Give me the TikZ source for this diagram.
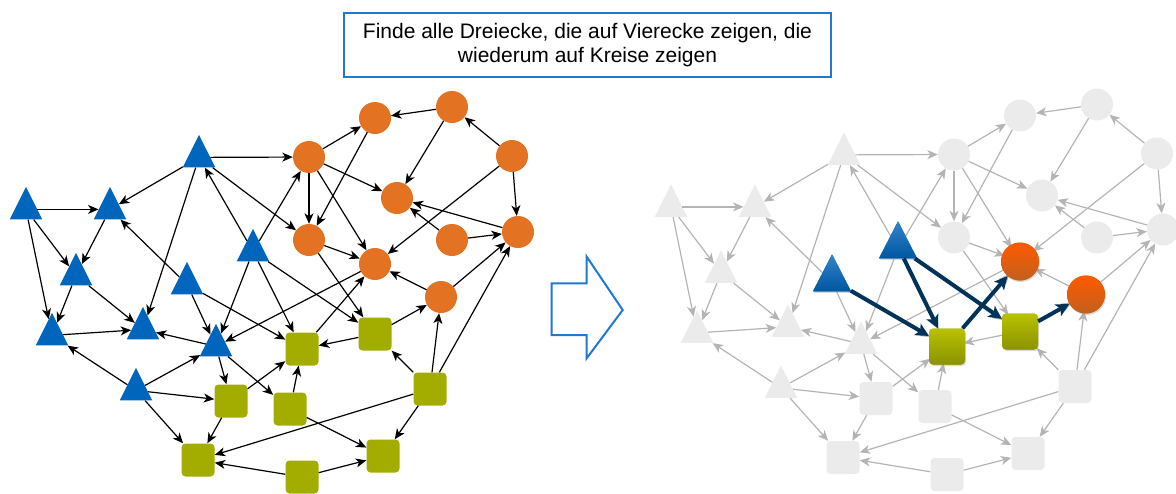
\documentclass[tikz,border=0pt]{standalone}
\usepackage{fontspec}
\setmainfont{Liberation Sans}
\usetikzlibrary{arrows.meta,shapes.geometric,shadows}
\definecolor{tumblau}{HTML}{0065BD}
\definecolor{tumorange}{HTML}{E37222}
\definecolor{tumgruen}{HTML}{A2AD00}
\definecolor{dunkelblau}{HTML}{003359}
\definecolor{rahmenblau}{HTML}{1F78D1}
\definecolor{knotengrau}{HTML}{EBEBEB}
\definecolor{kantengrau}{HTML}{B4B4B4}
\tikzstyle{dreieck}=[isosceles triangle,shape border rotate=90,isosceles triangle stretches,minimum width=32.5pt,minimum height=32.5pt,inner sep=0pt,yshift=-5.4pt,fill=tumblau]
\tikzstyle{kreis}=[circle,minimum size=32pt,inner sep=0pt,fill=tumorange]
\tikzstyle{viereck}=[rectangle,rounded corners=4pt,minimum size=33pt,inner sep=0pt,fill=tumgruen]
\tikzstyle{every edge}=[draw,line width=1.2pt,>={Stealth[length=10.5pt,width=9pt,inset=3pt]}]
\tikzstyle{hervor}=[drop shadow={opacity=0.3,shadow xshift=1pt,shadow yshift=-1.5pt}]
\tikzstyle{hpfeil}=[draw=dunkelblau,line width=4pt,-{Stealth[length=13pt,width=13pt,inset=3pt]}]

% das Netz, links farbig und rechts grau
\newcommand{\netz}{%
  \node[dreieck] (t1) at (26,204) {};
  \node[dreieck] (t2) at (110,204) {};
  \node[dreieck] (t3) at (199,152) {};
  \node[dreieck] (t4) at (253,246) {};
  \node[dreieck] (t5) at (76,270) {};
  \node[dreieck] (t6) at (187,279) {};
  \node[dreieck] (t7) at (52,330) {};
  \node[dreieck] (t8) at (143,324) {};
  \node[dreieck] (t9) at (216,341) {};
  \node[dreieck] (t10) at (136,385) {};
  \node[kreis] (c1) at (375,118) {};
  \node[kreis] (c2) at (452,107) {};
  \node[kreis] (c3) at (309,157) {};
  \node[kreis] (c4) at (512,156) {};
  \node[kreis] (c5) at (397,198) {};
  \node[kreis] (c6) at (309,240) {};
  \node[kreis] (c7) at (452,240) {};
  \node[kreis] (c8) at (518,232) {};
  \node[kreis] (c9) at (375,264) {};
  \node[kreis] (c10) at (441,297) {};
  \node[viereck] (s1) at (302,349) {};
  \node[viereck] (s2) at (375,334) {};
  \node[viereck] (s3) at (290,409) {};
  \node[viereck] (s4) at (430,389) {};
  \node[viereck] (s5) at (383,456) {};
  \node[viereck] (s6) at (302,477) {};
  \node[viereck] (s7) at (231,401) {};
  \node[viereck] (s8) at (198,460) {};

  \path[->] (t1) edge (t2)
               edge (t5)
               edge (t7)
    (t2) edge (t5)
    (t3) edge (t2)
         edge (t8)
         edge (c3)
         edge (c6)
    (t4) edge (t3)
         edge (c3)
         edge (t9)
         edge (s1)
         edge (s2)
    (t5) edge (t7)
         edge (t8)
    (t6) edge (t2)
         edge (t9)
         edge (s1)
    (t7) edge (t8)
    (t9) edge (t8)
         edge (s7)
         edge (s3)
    (t10) edge (t7)
          edge (t9)
          edge (s7)
          edge (s8)
    (c2) edge (c1)
         edge (c5)
    (c3) edge (c1)
         edge (c5)
         edge (c6)
         edge (c9)
    (c1) edge (c6)
    (c4) edge (c2)
         edge (c8)
         edge (c9)
    (c6) edge (c9)
         edge (s2)
    (c7) edge (c5)
         edge (c8)
    (c8) edge (c5)
    (c9) edge (t9)
    (c10) edge (c9)
          edge (c8)
    (s1) edge (c9)
    (s2) edge (s1)
         edge (c10)
    (s3) edge (s1)
         edge (s5)
    (s4) edge (s2)
         edge (c8)
         edge (c10)
         edge (s5)
         edge (s8)
    (s6) edge (s5)
         edge (s8)
    (s7) edge (s1)
         edge (s8);
}

\begin{document}
\begin{tikzpicture}[x=1pt,y=-1pt]
  \useasboundingbox (0,0) rectangle (1176,493);

  \node[draw=rahmenblau,line width=1.8pt,minimum width=487pt,minimum height=64pt,
        align=center,font=\fontsize{21}{23.5}\selectfont] (aufgabe) at (587.5,45)
        {Finde alle Dreiecke, die auf Vierecke zeigen, die\\wiederum auf Kreise zeigen};

  \begin{scope}[name prefix=L-]
    \netz
  \end{scope}

  % grosser Pfeil
  \draw[rahmenblau,line width=2pt,line join=miter] (551.7,283.3) -- (586.7,283.3) -- (586.7,256.7)
    -- (622.7,310) -- (586.7,358.3) -- (586.7,335) -- (551.7,335) -- cycle;

  \begin{scope}[name prefix=R-,xshift=645pt,yshift=2.5pt,
      dreieck/.append style={fill=knotengrau},
      kreis/.append style={fill=knotengrau},
      viereck/.append style={fill=knotengrau},
      every edge/.append style={draw=kantengrau}]
    \netz
  \end{scope}

  % Treffer
  \node[dreieck,hervor,minimum width=38pt,minimum height=37pt,top color=tumblau!80!white,bottom color=tumblau!85!black] (h-t4) at ([yshift=7.6pt]R-t4) {};
  \node[dreieck,hervor,minimum width=38pt,minimum height=37pt,top color=tumblau!80!white,bottom color=tumblau!85!black] (h-t6) at ([yshift=7.6pt]R-t6) {};
  \node[viereck,hervor,minimum size=36pt,top color=tumgruen!75!yellow,bottom color=tumgruen!85!black] (h-s1) at (R-s1) {};
  \node[viereck,hervor,minimum size=36pt,top color=tumgruen!75!yellow,bottom color=tumgruen!85!black] (h-s2) at (R-s2) {};
  \node[kreis,hervor,minimum size=38pt,top color=orange!70!red,bottom color=tumorange!85!black] (h-c9) at (R-c9) {};
  \node[kreis,hervor,minimum size=38pt,top color=orange!70!red,bottom color=tumorange!85!black] (h-c10) at (R-c10) {};
  \draw[hpfeil] (h-t6) -- (h-s1);
  \draw[hpfeil] (h-t4) -- (h-s1);
  \draw[hpfeil] (h-t4) -- (h-s2);
  \draw[hpfeil] (h-s1) -- (h-c9);
  \draw[hpfeil] (h-s2) -- (h-c10);
\end{tikzpicture}
\end{document}
